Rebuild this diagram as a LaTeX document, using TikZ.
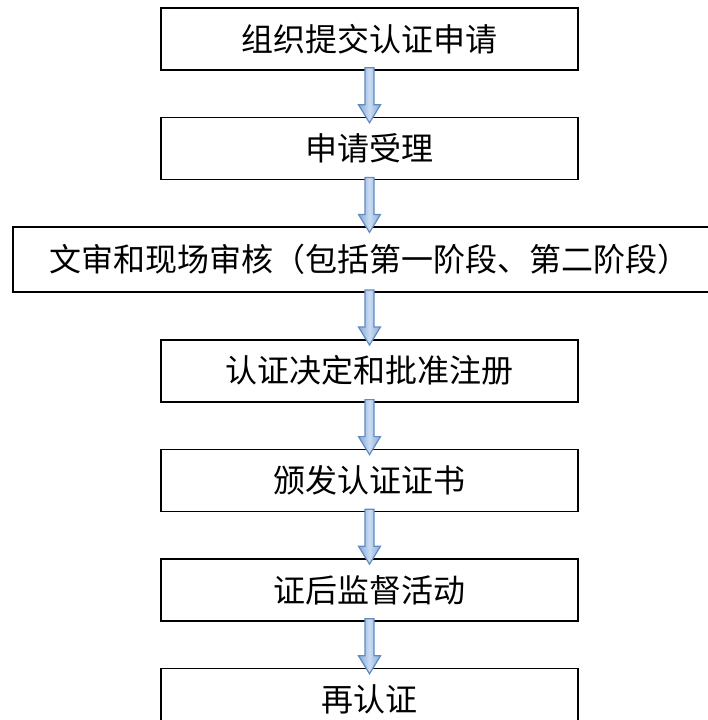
\documentclass[tikz,border=0pt]{standalone}
\usepackage{fontspec}
\newfontfamily\cjk{Noto Sans CJK SC}
\usepackage{tikz}
\usetikzlibrary{calc,positioning}
\definecolor{arrowline}{HTML}{628BC2}
\definecolor{arrowedge}{HTML}{86A9D6}
\definecolor{arrowmid}{HTML}{CADCF2}
\tikzset{
    %Define style for boxes
    stepbox/.style={
           rectangle,
           draw=black, line width=1.6pt,
           fill=white,
           minimum width=417pt,
           minimum height=62pt,
           font=\cjk\fontsize{32}{38}\selectfont,
           text centered},
    widebox/.style={
           stepbox,
           minimum width=713pt,
           minimum height=65pt},
    % Define block arrow style
    blockarrow/.style={
           draw=arrowline, line width=1.2pt,
           shading=axis,
           left color=arrowedge,
           right color=arrowedge,
           middle color=arrowmid}
}
\begin{document}
\begin{tikzpicture}[node distance=46pt]
\useasboundingbox (0,0) rectangle (708pt,-720pt);

 %nodes
\node[stepbox] (1) at (369.5pt,-39pt) {组织提交认证申请};
\node[stepbox, below=of 1] (2) {申请受理};
\node[widebox, below=of 2] (3) {文审和现场审核（包括第一阶段、第二阶段）};
\node[stepbox, below=of 3] (4) {认证决定和批准注册};
\node[stepbox, below=of 4] (5) {颁发认证证书};
\node[stepbox, below=of 5] (6) {证后监督活动};
\node[stepbox, below=of 6] (7) {再认证};

 %arrows
\foreach \a/\b in {1/2,2/3,3/4,4/5,5/6,6/7}
  \draw[blockarrow] ($(\a.south)+(-4.5pt,3pt)$) -- ($(\b.north)+(-4.5pt,12pt)$)
    -- ($(\b.north)+(-11pt,12pt)$) -- ($(\b.north)+(0pt,-6pt)$)
    -- ($(\b.north)+(11pt,12pt)$) -- ($(\b.north)+(4.5pt,12pt)$)
    -- ($(\a.south)+(4.5pt,3pt)$) -- cycle;

\end{tikzpicture}
\end{document}
